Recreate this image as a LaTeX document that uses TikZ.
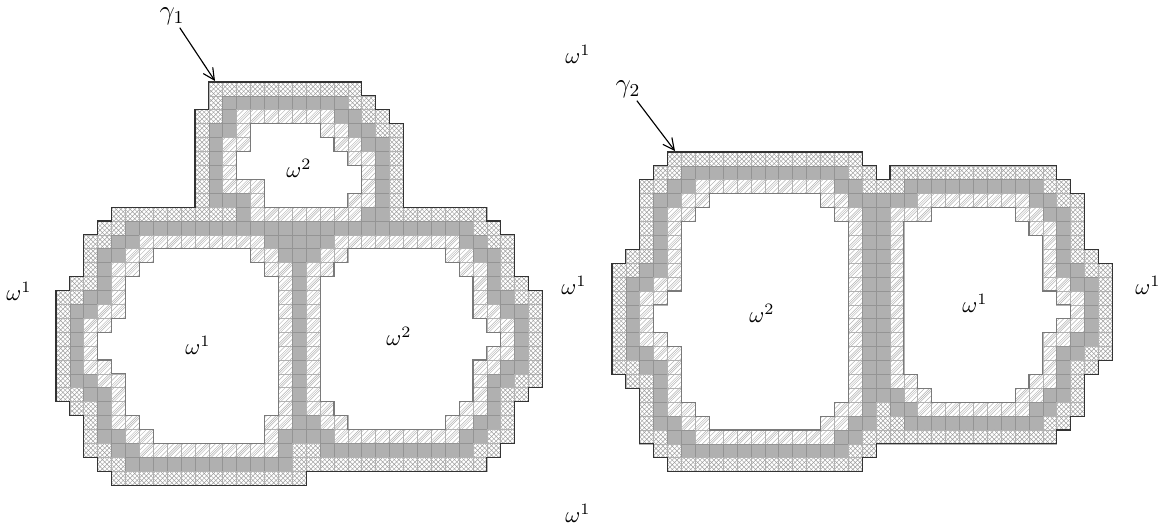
\documentclass[tikz,border=0pt]{standalone}
\usetikzlibrary{arrows.meta}
\tikzset{
  cellline/.style={draw=black!30,line width=0.28pt},
  hatchl/.style={draw=black!30,line width=0.2pt},
  crossl/.style={draw=black!38,line width=0.2pt},
  cellg/.style={draw=black!42,line width=0.28pt,fill=black!31},
  outerline/.style={draw=black!80,line width=0.5pt},
  innerline/.style={draw=black!52,line width=0.45pt},
  lab/.style={inner sep=0pt,text=black},
  gamlab/.style={inner sep=1.2pt,text=black,font=\large},
  leader/.style={draw=black,line width=0.5pt,-{Straight Barb[length=5pt,width=5pt]}},
}
\newcommand\cellbodyg{\path[cellg] (\c,\r) rectangle ++(1,1);}
\newcommand\cellbodyh{\draw[hatchl] (\c+.1667,\r)--(\c,\r+.1667) (\c+.5,\r)--(\c,\r+.5) (\c+.8333,\r)--(\c,\r+.8333) (\c+1,\r)--(\c,\r+1) (\c+1,\r+.1667)--(\c+.1667,\r+1) (\c+1,\r+.5)--(\c+.5,\r+1) (\c+1,\r+.8333)--(\c+.8333,\r+1);
  \path[cellline] (\c,\r) rectangle ++(1,1);}
\newcommand\cellbodyx{\draw[crossl] (\c+.1667,\r)--(\c,\r+.1667) (\c+.5,\r)--(\c,\r+.5) (\c+.8333,\r)--(\c,\r+.8333) (\c+1,\r+.1667)--(\c+.1667,\r+1) (\c+1,\r+.5)--(\c+.5,\r+1) (\c+1,\r+.8333)--(\c+.8333,\r+1)
  (\c+.8333,\r)--(\c+1,\r+.1667) (\c+.5,\r)--(\c+1,\r+.5) (\c+.1667,\r)--(\c+1,\r+.8333) (\c,\r+.1667)--(\c+.8333,\r+1) (\c,\r+.5)--(\c+.5,\r+1) (\c,\r+.8333)--(\c+.1667,\r+1);
  \path[cellline] (\c,\r) rectangle ++(1,1);}
\newcommand\CellRow[2]{\def\r{#1}\foreach \k/\a/\b in {#2}{\foreach \c in {\a,...,\b}{\csname cellbody\k\endcsname}}}
\begin{document}
\begin{tikzpicture}[x=0.44pt,y=-0.44pt]
\useasboundingbox (0,0) rectangle (1166,524);
\begin{scope}[shift={(56,82)},x=6.116pt,y=-6.116pt]
\CellRow{0}{x/11/21}
\CellRow{1}{x/11/11,g/12/20,x/21/22}
\CellRow{2}{x/10/11,g/12/12,h/13/19,g/20/21,x/22/23}
\CellRow{3}{x/10/10,g/11/12,h/13/13,h/19/20,g/21/22,x/23/24}
\CellRow{4}{x/10/10,g/11/11,h/12/13,h/20/21,g/22/23,x/24/24}
\CellRow{5}{x/10/10,g/11/11,h/12/12,h/21/22,g/23/23,x/24/24}
\CellRow{6}{x/10/10,g/11/11,h/12/12,h/22/22,g/23/23,x/24/24}
\CellRow{7}{x/10/10,g/11/11,h/12/14,h/22/22,g/23/23,x/24/24}
\CellRow{8}{x/10/10,g/11/13,h/14/14,h/21/22,g/23/23,x/24/24}
\CellRow{9}{x/4/12,g/13/13,h/14/21,g/22/23,x/24/30}
\CellRow{10}{x/3/4,g/5/29,x/30/31}
\CellRow{11}{x/2/3,g/4/5,h/6/14,g/15/19,h/20/28,g/29/30,x/31/32}
\CellRow{12}{x/2/2,g/3/4,h/5/6,h/14/15,g/16/18,h/19/20,h/28/29,g/30/31,x/32/32}
\CellRow{13}{x/2/2,g/3/3,h/4/5,h/15/16,g/17/17,h/18/19,h/29/30,g/31/31,x/32/32}
\CellRow{14}{x/1/2,g/3/3,h/4/4,h/16/16,g/17/17,h/18/18,h/30/30,g/31/31,x/32/33}
\CellRow{15}{x/0/1,g/2/3,h/4/4,h/16/16,g/17/17,h/18/18,h/30/30,g/31/32,x/33/34}
\CellRow{16}{x/0/0,g/1/2,h/3/4,h/16/16,g/17/17,h/18/18,h/30/31,g/32/33,x/34/34}
\CellRow{17}{x/0/0,g/1/1,h/2/3,h/16/16,g/17/17,h/18/18,h/31/32,g/33/33,x/34/34}
\CellRow{18}{x/0/0,g/1/1,h/2/2,h/16/16,g/17/17,h/18/18,h/32/32,g/33/33,x/34/34}
\CellRow{19}{x/0/0,g/1/1,h/2/2,h/16/16,g/17/17,h/18/18,h/31/32,g/33/33,x/34/34}
\CellRow{20}{x/0/0,g/1/1,h/2/3,h/16/16,g/17/17,h/18/18,h/30/31,g/32/33,x/34/34}
\CellRow{21}{x/0/0,g/1/2,h/3/4,h/16/16,g/17/17,h/18/18,h/30/30,g/31/32,x/33/34}
\CellRow{22}{x/0/1,g/2/3,h/4/4,h/16/16,g/17/17,h/18/18,h/30/30,g/31/31,x/32/33}
\CellRow{23}{x/1/2,g/3/3,h/4/4,h/16/16,g/17/17,h/18/19,h/29/30,g/31/31,x/32/32}
\CellRow{24}{x/2/2,g/3/3,h/4/5,h/15/16,g/17/18,h/19/20,h/28/29,g/30/31,x/32/32}
\CellRow{25}{x/2/2,g/3/4,h/5/6,h/15/15,g/16/19,h/20/28,g/29/30,x/31/32}
\CellRow{26}{x/2/3,g/4/5,h/6/15,g/16/16,x/17/18,g/19/29,x/30/31}
\CellRow{27}{x/3/4,g/5/16,x/17/30}
\CellRow{28}{x/4/17}
\draw[innerline] (14,3)--(19,3)--(19,4)--(20,4)--(20,5)--(21,5)--(21,6)--(22,6)--(22,8)--(21,8)--(21,9)--(15,9)--(15,7)--(13,7)--(13,5)--(14,5)--cycle;
\draw[innerline] (7,12)--(14,12)--(14,13)--(15,13)--(15,14)--(16,14)--(16,24)--(15,24)--(15,26)--(7,26)--(7,25)--(6,25)--(6,24)--(5,24)--(5,21)--(4,21)--(4,20)--(3,20)--(3,18)--(4,18)--(4,17)--(5,17)--(5,14)--(6,14)--(6,13)--(7,13)--cycle;
\draw[innerline] (21,12)--(28,12)--(28,13)--(29,13)--(29,14)--(30,14)--(30,17)--(31,17)--(31,18)--(32,18)--(32,19)--(31,19)--(31,20)--(30,20)--(30,23)--(29,23)--(29,24)--(28,24)--(28,25)--(21,25)--(21,24)--(20,24)--(20,23)--(19,23)--(19,14)--(20,14)--(20,13)--(21,13)--cycle;
\draw[outerline] (11,0)--(22,0)--(22,1)--(23,1)--(23,2)--(24,2)--(24,3)--(25,3)--(25,9)--(31,9)--(31,10)--(32,10)--(32,11)--(33,11)--(33,14)--(34,14)--(34,15)--(35,15)--(35,22)--(34,22)--(34,23)--(33,23)--(33,26)--(32,26)--(32,27)--(31,27)--(31,28)--(18,28)--(18,29)--(4,29)--(4,28)--(3,28)--(3,27)--(2,27)--(2,24)--(1,24)--(1,23)--(0,23)--(0,15)--(1,15)--(1,14)--(2,14)--(2,11)--(3,11)--(3,10)--(4,10)--(4,9)--(10,9)--(10,2)--(11,2)--cycle;
\end{scope}
\begin{scope}[shift={(612,152)},x=6.116pt,y=-6.116pt]
\CellRow{0}{x/4/17}
\CellRow{1}{x/3/4,g/5/16,x/17/18,x/20/31}
\CellRow{2}{x/2/3,g/4/5,h/6/15,g/16/17,x/18/20,g/21/30,x/31/32}
\CellRow{3}{x/2/2,g/3/4,h/5/6,h/15/16,g/17/21,h/22/29,g/30/31,x/32/33}
\CellRow{4}{x/2/2,g/3/3,h/4/5,h/16/17,g/18/19,h/20/22,h/29/30,g/31/32,x/33/33}
\CellRow{5}{x/2/2,g/3/3,h/4/4,h/17/17,g/18/19,h/20/20,h/30/31,g/32/32,x/33/33}
\CellRow{6}{x/2/2,g/3/3,h/4/4,h/17/17,g/18/19,h/20/20,h/31/31,g/32/32,x/33/33}
\CellRow{7}{x/1/2,g/3/3,h/4/4,h/17/17,g/18/19,h/20/20,h/31/31,g/32/32,x/33/34}
\CellRow{8}{x/0/1,g/2/3,h/4/4,h/17/17,g/18/19,h/20/20,h/31/31,g/32/33,x/34/35}
\CellRow{9}{x/0/0,g/1/2,h/3/4,h/17/17,g/18/19,h/20/20,h/31/32,g/33/34,x/35/35}
\CellRow{10}{x/0/0,g/1/1,h/2/3,h/17/17,g/18/19,h/20/20,h/32/33,g/34/34,x/35/35}
\CellRow{11}{x/0/0,g/1/1,h/2/2,h/17/17,g/18/19,h/20/20,h/33/33,g/34/34,x/35/35}
\CellRow{12}{x/0/0,g/1/1,h/2/2,h/17/17,g/18/19,h/20/20,h/32/33,g/34/34,x/35/35}
\CellRow{13}{x/0/0,g/1/1,h/2/3,h/17/17,g/18/19,h/20/20,h/31/32,g/33/34,x/35/35}
\CellRow{14}{x/0/0,g/1/2,h/3/4,h/17/17,g/18/19,h/20/20,h/31/31,g/32/33,x/34/35}
\CellRow{15}{x/0/1,g/2/3,h/4/4,h/17/17,g/18/19,h/20/20,h/31/31,g/32/32,x/33/34}
\CellRow{16}{x/1/2,g/3/3,h/4/4,h/17/17,g/18/19,h/20/21,h/30/31,g/32/32,x/33/33}
\CellRow{17}{x/2/2,g/3/3,h/4/4,h/17/17,g/18/20,h/21/22,h/29/30,g/31/32,x/33/33}
\CellRow{18}{x/2/2,g/3/3,h/4/5,h/16/17,g/18/18,x/19/19,g/20/21,h/22/29,g/30/31,x/32/33}
\CellRow{19}{x/2/2,g/3/4,h/5/6,h/15/16,g/17/18,x/19/20,g/21/30,x/31/32}
\CellRow{20}{x/2/3,g/4/5,h/6/15,g/16/17,x/18/31}
\CellRow{21}{x/3/4,g/5/16,x/17/18}
\CellRow{22}{x/4/17}
\draw[innerline] (7,3)--(15,3)--(15,4)--(16,4)--(16,5)--(17,5)--(17,18)--(16,18)--(16,19)--(15,19)--(15,20)--(7,20)--(7,19)--(6,19)--(6,18)--(5,18)--(5,14)--(4,14)--(4,13)--(3,13)--(3,11)--(4,11)--(4,10)--(5,10)--(5,5)--(6,5)--(6,4)--(7,4)--cycle;
\draw[innerline] (23,4)--(29,4)--(29,5)--(30,5)--(30,6)--(31,6)--(31,10)--(32,10)--(32,11)--(33,11)--(33,12)--(32,12)--(32,13)--(31,13)--(31,16)--(30,16)--(30,17)--(29,17)--(29,18)--(23,18)--(23,17)--(22,17)--(22,16)--(21,16)--(21,5)--(23,5)--cycle;
\draw[outerline] (4,0)--(18,0)--(18,1)--(19,1)--(19,2)--(20,2)--(20,1)--(32,1)--(32,2)--(33,2)--(33,3)--(34,3)--(34,7)--(35,7)--(35,8)--(36,8)--(36,15)--(35,15)--(35,16)--(34,16)--(34,19)--(33,19)--(33,20)--(32,20)--(32,21)--(19,21)--(19,22)--(18,22)--(18,23)--(4,23)--(4,22)--(3,22)--(3,21)--(2,21)--(2,17)--(1,17)--(1,16)--(0,16)--(0,8)--(1,8)--(1,7)--(2,7)--(2,2)--(3,2)--(3,1)--(4,1)--cycle;
\end{scope}
\node[lab] (w1) at (299,168) {$\omega^2$};
\node[lab] (w2) at (198,345) {$\omega^1$};
\node[lab] (w3) at (399,336) {$\omega^2$};
\node[lab] (w4) at (762,313) {$\omega^2$};
\node[lab] (w5) at (975,303) {$\omega^1$};
\node[lab] (w6) at (578,54) {$\omega^1$};
\node[lab] (w7) at (19,291) {$\omega^1$};
\node[lab] (w8) at (574,285) {$\omega^1$};
\node[lab] (w9) at (1148,285) {$\omega^1$};
\node[lab] (w10) at (578,513) {$\omega^1$};
\node[gamlab] (g1) at (172,16) {$\gamma_1$};
\node[gamlab] (g2) at (628,89) {$\gamma_2$};
\coordinate (e1) at (215,81);
\coordinate (e2) at (675,151);
\draw[leader] (g1) -- (e1);
\draw[leader] (g2) -- (e2);
\end{tikzpicture}
\end{document}
